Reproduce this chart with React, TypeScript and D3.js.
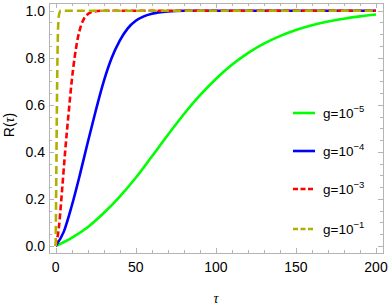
import React, { useEffect, useRef } from 'react';
import * as d3 from 'd3';

// values: [tau, R]
const green5: [number, number][] = [
  [0, 0], [10, 0.035], [20, 0.08], [30, 0.14], [40, 0.21], [50, 0.29], [60, 0.38],
  [70, 0.472], [80, 0.56], [90, 0.64], [100, 0.71], [110, 0.77], [120, 0.82], [130, 0.86],
  [140, 0.892], [150, 0.918], [160, 0.938], [170, 0.954], [180, 0.966], [190, 0.976], [200, 0.984],
];
const blue4: [number, number][] = [
  [0, 0], [5, 0.06], [10, 0.17], [15, 0.3], [20, 0.44], [25, 0.575], [30, 0.7], [35, 0.8],
  [40, 0.873], [45, 0.925], [50, 0.957], [55, 0.976], [60, 0.987], [70, 0.997], [80, 1], [200, 1],
];
const red3: [number, number][] = [
  [0, 0], [2, 0.08], [4, 0.24], [6, 0.41], [8, 0.56], [10, 0.7], [12, 0.81], [14, 0.89],
  [16, 0.94], [18, 0.97], [20, 0.985], [24, 0.997], [30, 1], [200, 1],
];
const olive1: [number, number][] = [
  [0, 0], [0.5, 0.4], [1, 0.75], [1.5, 0.93], [2, 0.98], [3, 1], [200, 1],
];

const series = [
  { exp: '−5', data: green5, color: '#00ff00', dash: null },
  { exp: '−4', data: blue4, color: '#0000ff', dash: null },
  { exp: '−3', data: red3, color: '#ff0000', dash: '6,3' },
  { exp: '−1', data: olive1, color: '#b0b000', dash: '8,4' },
];

const xTicks = [0, 50, 100, 150, 200];
const yTicks = [0, 0.2, 0.4, 0.6, 0.8, 1.0];

const App = () => {
  const svgRef = useRef<SVGSVGElement>(null);

  useEffect(() => {
    const svg = d3.select(svgRef.current);
    svg.selectAll('*').remove();

    const frame = { left: 49, right: 383, top: 3, bottom: 253 };
    const x = d3.scaleLinear().domain([0, 200]).range([55.7, 376]);
    const y = d3.scaleLinear().domain([0, 1]).range([246, 10.7]);
    const gray = '#b4b4b4';
    const font = 'Liberation Sans, Arial, sans-serif';

    // frame
    svg.append('rect')
      .attr('x', frame.left + 0.5).attr('y', frame.top + 0.5)
      .attr('width', frame.right - frame.left).attr('height', frame.bottom - frame.top)
      .attr('fill', 'none').attr('stroke', gray).attr('stroke-width', 1);

    // x ticks (bottom and top, inside)
    d3.range(0, 201, 10).forEach(t => {
      const len = t % 50 === 0 ? 5 : 3;
      const px = Math.round(x(t)) + 0.5;
      svg.append('line').attr('x1', px).attr('x2', px)
        .attr('y1', frame.bottom).attr('y2', frame.bottom - len).attr('stroke', gray);
      svg.append('line').attr('x1', px).attr('x2', px)
        .attr('y1', frame.top).attr('y2', frame.top + len).attr('stroke', gray);
    });
    // y ticks (left and right, inside)
    d3.range(0, 21).forEach(i => {
      const v = i * 0.05;
      const len = i % 4 === 0 ? 5 : 3;
      const py = Math.round(y(v)) + 0.5;
      svg.append('line').attr('x1', frame.left).attr('x2', frame.left + len)
        .attr('y1', py).attr('y2', py).attr('stroke', gray);
      svg.append('line').attr('x1', frame.right).attr('x2', frame.right - len)
        .attr('y1', py).attr('y2', py).attr('stroke', gray);
    });

    // tick labels
    svg.append('g').selectAll('text').data(xTicks).join('text')
      .attr('x', d => x(d)).attr('y', 272)
      .attr('text-anchor', 'middle')
      .attr('font-family', font).attr('font-size', 14)
      .text(d => d);
    svg.append('g').selectAll('text').data(yTicks).join('text')
      .attr('x', 45).attr('y', d => y(d) + 5)
      .attr('text-anchor', 'end')
      .attr('font-family', font).attr('font-size', 14)
      .text(d => d.toFixed(1));

    // axis labels
    svg.append('text')
      .attr('x', 216).attr('y', 303)
      .attr('text-anchor', 'middle')
      .attr('font-family', 'Liberation Serif, Times New Roman, serif')
      .attr('font-style', 'italic').attr('font-size', 14)
      .text('τ');
    const yl = svg.append('text')
      .attr('transform', 'translate(14,125) rotate(-90)')
      .attr('text-anchor', 'middle')
      .attr('font-family', font).attr('font-size', 14);
    yl.append('tspan').text('R(');
    yl.append('tspan')
      .attr('font-family', 'Liberation Serif, Times New Roman, serif')
      .attr('font-style', 'italic').text('τ');
    yl.append('tspan').text(')');

    // curves
    const line = d3.line<[number, number]>()
      .x(d => x(d[0]))
      .y(d => y(d[1]))
      .curve(d3.curveMonotoneX);

    series.forEach(s => {
      svg.append('path')
        .datum(s.data)
        .attr('fill', 'none')
        .attr('stroke', s.color)
        .attr('stroke-width', 2.6)
        .attr('stroke-dasharray', s.dash)
        .attr('d', line);
    });

    // legend
    const legendY = [113, 151, 189, 229];
    series.forEach((s, i) => {
      const ly = legendY[i];
      svg.append('line')
        .attr('x1', 293).attr('x2', 315).attr('y1', ly).attr('y2', ly)
        .attr('stroke', s.color).attr('stroke-width', 2.6)
        .attr('stroke-dasharray', s.dash ? '5,2.5' : null);
      const t = svg.append('text')
        .attr('x', 323).attr('y', ly + 5)
        .attr('font-family', font).attr('font-size', 13.5);
      t.append('tspan').text('g=10');
      t.append('tspan').attr('font-size', 9.5).attr('dy', -6).text(s.exp);
    });
  }, []);

  return (
    <svg ref={svgRef} width={390} height={308}
      style={{ position: 'absolute', left: 0, top: 0, background: '#fff' }} />
  );
};

export default App;
